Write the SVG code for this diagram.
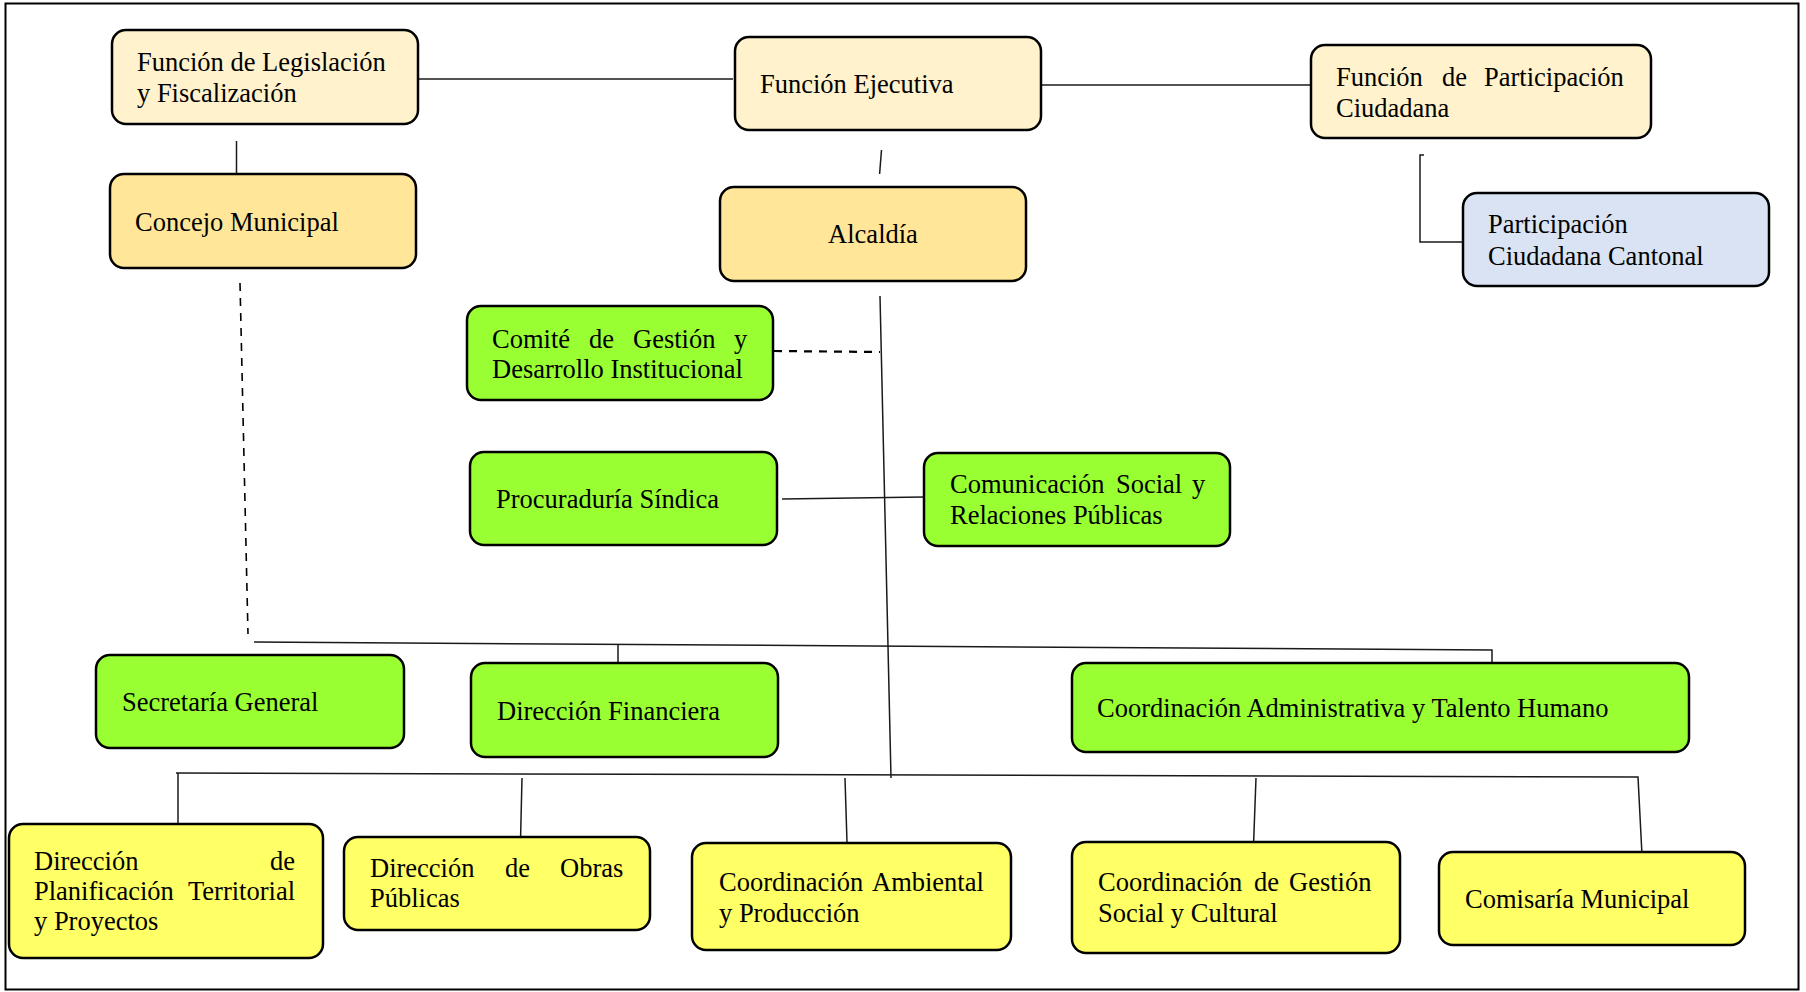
<svg xmlns="http://www.w3.org/2000/svg" width="1806" height="992" viewBox="0 0 1806 992">
<style>
.box{stroke:#000;stroke-width:2.5}
.cream{fill:#FFF2CC}
.gold{fill:#FFE699}
.blue{fill:#DAE3F3}
.green{fill:#99FF33}
.yellow{fill:#FFFF66}
.t{font-family:"Liberation Serif","Times New Roman",serif;font-size:26.5px;fill:#000}
.c{fill:none;stroke:#1a1a1a;stroke-width:1.5}
.d{fill:none;stroke:#000;stroke-width:1.6;stroke-dasharray:8 7}
</style>
<rect x="0" y="0" width="1806" height="992" fill="#fff"/>
<rect x="5.5" y="3.5" width="1793" height="986" fill="none" stroke="#000" stroke-width="2"/>
<g id="connectors">
<line class="c" x1="418" y1="79" x2="733" y2="79"/>
<line class="c" x1="1040" y1="85" x2="1312" y2="85"/>
<line class="c" x1="236.5" y1="141" x2="236.5" y2="175"/>
<line class="c" x1="881.5" y1="150" x2="879.6" y2="174"/>
<polyline class="c" points="1424,155 1420,155 1420,242 1464,242"/>
<line class="d" x1="240" y1="283" x2="248" y2="634"/>
<line class="c" x1="880" y1="296" x2="891" y2="778"/>
<line class="d" x1="774" y1="351" x2="880" y2="352" style="stroke-width:2.2"/>
<line class="c" x1="782" y1="499" x2="924" y2="497"/>
<polyline class="c" points="254,642 1492,650 1492,664"/>
<line class="c" x1="618" y1="644" x2="618" y2="669"/>
<polyline class="c" points="176,773 1638,777 1642,855"/>
<line class="c" x1="178" y1="773" x2="178" y2="826"/>
<line class="c" x1="522" y1="778" x2="520.6" y2="837"/>
<line class="c" x1="845" y1="778" x2="847" y2="843"/>
<line class="c" x1="1256" y1="778" x2="1253.6" y2="843"/>
</g>
<g id="n-legislacion">
<rect class="box cream" x="112" y="30" width="306" height="94" rx="14"/>
<text class="t"><tspan x="137" y="71">Función de Legislación</tspan><tspan x="137" y="102">y Fiscalización</tspan></text>
</g>
<g id="n-concejo">
<rect class="box gold" x="110" y="174" width="306" height="94" rx="14"/>
<text class="t" x="135" y="231">Concejo Municipal</text>
</g>
<g id="n-ejecutiva">
<rect class="box cream" x="735" y="37" width="306" height="93" rx="14"/>
<text class="t" x="760" y="93">Función Ejecutiva</text>
</g>
<g id="n-alcaldia">
<rect class="box gold" x="720" y="187" width="306" height="94" rx="14"/>
<text class="t" x="873" y="243" text-anchor="middle">Alcaldía</text>
</g>
<g id="n-funcion-participacion">
<rect class="box cream" x="1311" y="45" width="340" height="93" rx="14"/>
<text class="t"><tspan x="1336" y="86">Función</tspan> <tspan x="1442" y="86">de</tspan> <tspan x="1484" y="86">Participación</tspan><tspan x="1336" y="117">Ciudadana</tspan></text>
</g>
<g id="n-participacion-cantonal">
<rect class="box blue" x="1463" y="193" width="306" height="93" rx="14"/>
<text class="t"><tspan x="1488" y="233">Participación</tspan><tspan x="1488" y="265">Ciudadana Cantonal</tspan></text>
</g>
<g id="n-comite">
<rect class="box green" x="467" y="306" width="306" height="94" rx="14"/>
<text class="t"><tspan x="492" y="348">Comité</tspan> <tspan x="589" y="348">de</tspan> <tspan x="633" y="348">Gestión</tspan> <tspan x="734" y="348">y</tspan><tspan x="492" y="378">Desarrollo Institucional</tspan></text>
</g>
<g id="n-procuraduria">
<rect class="box green" x="470" y="452" width="307" height="93" rx="14"/>
<text class="t" x="496" y="508">Procuraduría Síndica</text>
</g>
<g id="n-comunicacion">
<rect class="box green" x="924" y="453" width="306" height="93" rx="14"/>
<text class="t"><tspan x="950" y="493">Comunicación</tspan> <tspan x="1116" y="493">Social</tspan> <tspan x="1192" y="493">y</tspan><tspan x="950" y="524">Relaciones Públicas</tspan></text>
</g>
<g id="n-secretaria">
<rect class="box green" x="96" y="655" width="308" height="93" rx="14"/>
<text class="t" x="122" y="711">Secretaría General</text>
</g>
<g id="n-financiera">
<rect class="box green" x="471" y="663" width="307" height="94" rx="14"/>
<text class="t" x="497" y="720">Dirección Financiera</text>
</g>
<g id="n-administrativa">
<rect class="box green" x="1072" y="663" width="617" height="89" rx="14"/>
<text class="t" x="1097" y="717">Coordinación Administrativa y Talento Humano</text>
</g>
<g id="n-planificacion">
<rect class="box yellow" x="9" y="824" width="314" height="134" rx="14"/>
<text class="t"><tspan x="34" y="870">Dirección</tspan> <tspan x="270" y="870">de</tspan><tspan x="34" y="900">Planificación</tspan> <tspan x="188" y="900">Territorial</tspan><tspan x="34" y="930">y Proyectos</tspan></text>
</g>
<g id="n-obras">
<rect class="box yellow" x="344" y="837" width="306" height="93" rx="14"/>
<text class="t"><tspan x="370" y="877">Dirección</tspan> <tspan x="505" y="877">de</tspan> <tspan x="560" y="877">Obras</tspan><tspan x="370" y="907">Públicas</tspan></text>
</g>
<g id="n-ambiental">
<rect class="box yellow" x="692" y="843" width="319" height="107" rx="14"/>
<text class="t"><tspan x="719" y="891">Coordinación</tspan> <tspan x="872" y="891">Ambiental</tspan><tspan x="719" y="922">y Producción</tspan></text>
</g>
<g id="n-gestion-social">
<rect class="box yellow" x="1072" y="842" width="328" height="111" rx="14"/>
<text class="t"><tspan x="1098" y="891">Coordinación</tspan> <tspan x="1254" y="891">de</tspan> <tspan x="1289" y="891">Gestión</tspan><tspan x="1098" y="922">Social y Cultural</tspan></text>
</g>
<g id="n-comisaria">
<rect class="box yellow" x="1439" y="852" width="306" height="93" rx="14"/>
<text class="t" x="1465" y="908">Comisaría Municipal</text>
</g>
</svg>
